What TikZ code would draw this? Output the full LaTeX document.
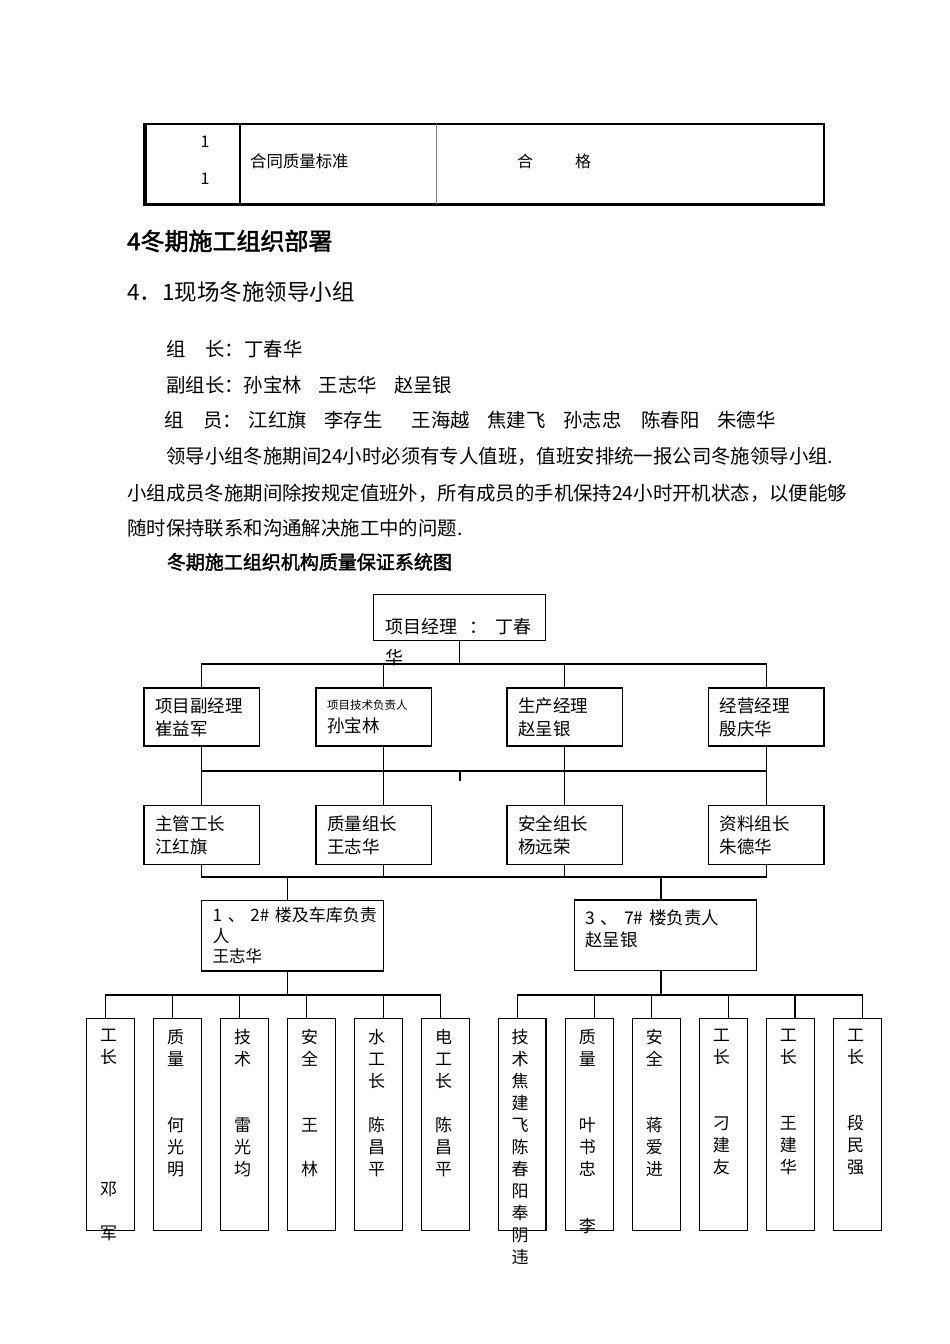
\documentclass[tikz,border=0pt]{standalone}
\usepackage{fontspec}
\setmainfont[AutoFakeBold=2]{Noto Sans CJK SC}
\usepackage{tikz}
\usetikzlibrary{positioning}
\newcommand{\fsz}[2]{\fontsize{#1}{#2}\selectfont}

\begin{document}
\begin{tikzpicture}[
    x=1pt, y=-1pt,
    txt/.style={anchor=west, inner sep=0pt, font=\fsz{19.4}{24}},
    box/.style={draw, rectangle, line width=1.2pt, inner sep=0pt, align=left, font=\fsz{17.5}{23}},
    col/.style={draw, rectangle, line width=1.2pt, inner sep=0pt, minimum width=47.7pt, minimum height=212.4pt},
    coltxt/.style={anchor=north, inner sep=0pt, align=center, font=\fsz{17}{22}},
    link/.style={line width=1.2pt}
]
\fill[white] (0,0) rectangle (950,1344);
\useasboundingbox (0,0) rectangle (950,1344);
% 1. Table row
\draw[line width=1.5pt] (143.3,124) -- (825,124);
\draw[line width=3.4pt] (145,123.3) -- (145,206);
\draw[line width=2.8pt] (143.3,204.6) -- (825,204.6);
\draw[line width=2pt] (824,123.3) -- (824,206);
\draw[line width=1.2pt] (240,124) -- (240,204);
\draw[line width=1pt, gray] (436,124) -- (436,204);
\node[inner sep=0pt, font=\fsz{16}{20}] (no1) at (205,142) {1};
\node[inner sep=0pt, font=\fsz{16}{20}] (no2) at (205,179) {1};
\node[txt, font=\fsz{16.4}{20}] (std) at (250,161) {合同质量标准};
\node[inner sep=0pt, font=\fsz{16}{20}] (ok1) at (525,161) {合};
\node[inner sep=0pt, font=\fsz{16}{20}] (ok2) at (583,161) {格};
% 2. Headings and text
\node[txt, font=\fsz{24}{28}\bfseries] (head) at (127,241) {4冬期施工组织部署};
\node[txt, font=\fsz{22.5}{26}] (sub) at (127,292) {4．1现场冬施领导小组};
\node[txt] (lead) at (166,349) {组\hspace{20pt}长：丁春华};
\node[txt] (vice) at (166,385) {副组长：孙宝林\hspace{17pt}王志华\hspace{17pt}赵呈银};
\node[txt] (mem) at (164,420) {组\hspace{20pt}员：};
\node[txt] (mb1) at (248.5,420) {江红旗};
\node[txt] (mb2) at (324,420) {李存生};
\node[txt] (mb3) at (411.5,420) {王海越};
\node[txt] (mb4) at (487,420) {焦建飞};
\node[txt] (mb5) at (563,420) {孙志忠};
\node[txt] (mb6) at (641,420) {陈春阳};
\node[txt] (mb7) at (717,420) {朱德华};
\node[txt] (par1) at (166,456) {领导小组冬施期间24小时必须有专人值班，值班安排统一报公司冬施领导小组.};
\node[txt] (par2) at (127,493) {小组成员冬施期间除按规定值班外，所有成员的手机保持24小时开机状态，以便能够};
\node[txt] (par3) at (127,528) {随时保持联系和沟通解决施工中的问题.};
\node[txt, font=\fsz{19}{24}\bfseries] (title) at (166.7,562) {冬期施工组织机构质量保证系统图};
% 3. Project manager
\node[box, minimum width=172.4pt, minimum height=46pt] (pm) at (459.5,617.3) {};
\node[txt, font=\fsz{18}{31}] (pmtxt) at (385,627) {项目经理\hspace{12pt}：\hspace{8pt}丁春};
\node[txt, font=\fsz{18}{31}] (pmtxt2) at (385,658) {华};
% 4. Second row
\node[box, minimum width=115.5pt, minimum height=58pt, text width=93.5pt] (m1) at (201.8,717) {项目副经理\\崔益军};
\node[box, minimum width=115.6pt, minimum height=58pt, text width=93.6pt] (m2) at (373.8,717) {{\fsz{11.5}{18}项目技术负责人}\\孙宝林};
\node[box, minimum width=115.6pt, minimum height=58pt, text width=93.6pt] (m3) at (564.8,717) {生产经理\\赵呈银};
\node[box, minimum width=115.5pt, minimum height=58pt, text width=93.5pt] (m4) at (766.3,717) {经营经理\\殷庆华};
% 5. Third row
\node[box, minimum width=115.5pt, minimum height=59pt, text width=93.5pt] (s1) at (201.8,835.2) {主管工长\\江红旗};
\node[box, minimum width=115.6pt, minimum height=59pt, text width=93.6pt] (s2) at (373.8,835.2) {质量组长\\王志华};
\node[box, minimum width=115.6pt, minimum height=59pt, text width=93.6pt] (s3) at (564.8,835.2) {安全组长\\杨远荣};
\node[box, minimum width=115.5pt, minimum height=59pt, text width=93.5pt] (s4) at (766.3,835.2) {资料组长\\朱德华};
% 6. Building leaders
\node[box, minimum width=181.6pt, minimum height=70.3pt, text width=159.6pt, font=\fsz{17}{20.5}] (b1) at (292.5,935.9) {\mbox{1 、 2\# 楼及车库负责}\\人\\{\fsz{16.5}{19}王志华}};
\node[box, minimum width=182.4pt, minimum height=70.7pt, text width=160.4pt, font=\fsz{17.5}{22}] (b2) at (665.5,935.4) {\mbox{3 、 7\# 楼负责人}\\赵呈银\\[-8pt]\mbox{}};
% 7. Columns, left group
\node[col] (c1) at (110.5,1124.5) {};
\node[col] (c2) at (177.5,1124.5) {};
\node[col] (c3) at (244.5,1124.5) {};
\node[col] (c4) at (311.7,1124.5) {};
\node[col] (c5) at (378.7,1124.5) {};
\node[col] (c6) at (445.5,1124.5) {};
\node[coltxt] (ct1) at ([xshift=-2,yshift=-11]c1.north) {工\\长\\~\\~\\~\\~\\~\\邓\\~\\军};
\node[coltxt] (ct2) at ([xshift=-2,yshift=-11]c2.north) {质\\量\\~\\~\\何\\光\\明};
\node[coltxt] (ct3) at ([xshift=-2,yshift=-11]c3.north) {技\\术\\~\\~\\雷\\光\\均};
\node[coltxt] (ct4) at ([xshift=-2,yshift=-11]c4.north) {安\\全\\~\\~\\王\\~\\林};
\node[coltxt] (ct5) at ([xshift=-2,yshift=-11]c5.north) {水\\工\\长\\~\\陈\\昌\\平};
\node[coltxt] (ct6) at ([xshift=-2,yshift=-11]c6.north) {电\\工\\长\\~\\陈\\昌\\平};
% 8. Columns, right group
\node[col] (r1) at (522.2,1124.5) {};
\node[col] (r2) at (589.3,1124.5) {};
\node[col] (r3) at (656.3,1124.5) {};
\node[col] (r4) at (723.3,1124.5) {};
\node[col] (r5) at (790.3,1124.5) {};
\node[col] (r6) at (857.5,1124.5) {};
\node[coltxt] (rt1) at ([xshift=-2,yshift=-11]r1.north) {技\\术\\焦\\建\\飞\\陈\\春\\阳\\奉\\阴\\违};
\node[coltxt] (rt2) at ([xshift=-2,yshift=-11]r2.north) {质\\量\\~\\~\\叶\\书\\忠\\~\\[13pt]李};
\node[coltxt] (rt3) at ([xshift=-2,yshift=-11]r3.north) {安\\全\\~\\~\\蒋\\爱\\进};
\node[coltxt] (rt4) at ([xshift=-2,yshift=-11]r4.north) {工\\长\\~\\~\\刁\\建\\友};
\node[coltxt] (rt5) at ([xshift=-2,yshift=-11]r5.north) {工\\长\\~\\~\\王\\建\\华};
\node[coltxt] (rt6) at ([xshift=-2,yshift=-11]r6.north) {工\\长\\~\\~\\段\\民\\强};
% --- Bus points ---
\coordinate (busA) at (460,664);
\coordinate (busB) at (460,771);
\coordinate (stubB) at (460,781);
\coordinate (busC) at (460,877);
\coordinate (busL) at (287.5,995);
\coordinate (busR) at (661,995);
% --- Connections ---
% manager to second row
\draw[link] (pm.south) -- (pm.south |- busA);
\draw[link] (m1.north) |- (busA);
\draw[link] ([xshift=9.7]m2.north) |- (busA);
\draw[link] (m3.north) |- (busA);
\draw[link] (m4.north) |- (busA);
% second row to third row
\draw[link] (m1) -- (s1);
\draw[link] ([xshift=9.7]m2.south) -- ([xshift=9.7]s2.north);
\draw[link] (m3) -- (s3);
\draw[link] (m4) -- (s4);
\draw[link] (m1.south |- busB) -- (m4.south |- busB);
\draw[link] (busB) -- (stubB);
% third row to building leaders
\draw[link] (s1.south) -- (s1.south |- busC) -- (s4.south |- busC) -- (s4.south);
\draw[link] ([xshift=9.7]s2.south) -- ([xshift=9.7]s2.south |- busC);
\draw[link] (s3.south) -- (s3.south |- busC);
\draw[link] ([xshift=-5]b1.north) -- ([xshift=-5]b1.north |- busC);
\draw[link] ([xshift=-4.5]b2.north) -- ([xshift=-4.5]b2.north |- busC);
% building leaders to columns
\draw[link] ([xshift=-5]b1.south) -- (busL);
\draw[link] ([xshift=-4.8]c1.north) |- (busL);
\draw[link] ([xshift=-4.8]c2.north) |- (busL);
\draw[link] ([xshift=-4.8]c3.north) |- (busL);
\draw[link] ([xshift=-5]c4.north) |- (busL);
\draw[link] ([xshift=4.6]c5.north) |- (busL);
\draw[link] ([xshift=-4.8]c6.north) |- (busL);
\draw[link] ([xshift=-4.5]b2.south) -- (busR);
\draw[link] ([xshift=-4.5]r1.north) |- (busR);
\draw[link] ([xshift=5]r2.north) |- (busR);
\draw[link] ([xshift=-4.6]r3.north) |- (busR);
\draw[link] ([xshift=5]r4.north) |- (busR);
\draw[link] ([xshift=4.7]r5.north) |- (busR);
\draw[link] ([xshift=4.8]r6.north) |- (busR);
\end{tikzpicture}
\end{document}
